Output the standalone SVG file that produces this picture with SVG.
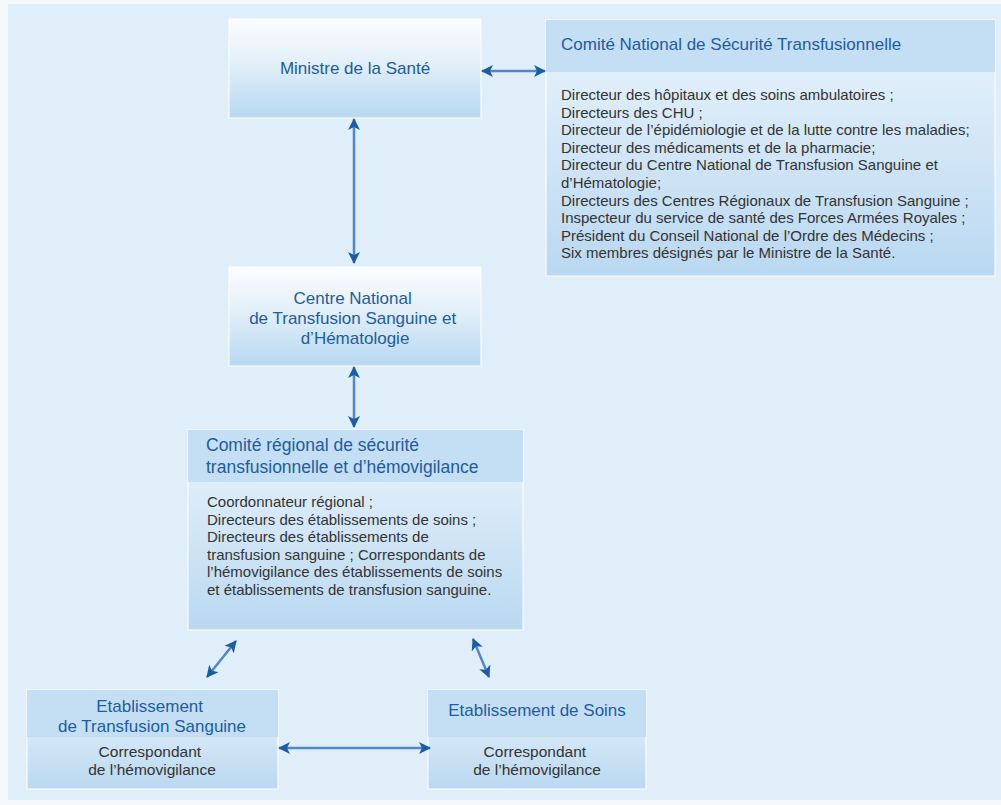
<svg xmlns="http://www.w3.org/2000/svg" width="1001" height="805" viewBox="0 0 1001 805">
<defs>
<linearGradient id="gTop" x1="0" y1="0" x2="0" y2="1">
<stop offset="0" stop-color="#fbfdff"/>
<stop offset="0.45" stop-color="#e2eff9"/>
<stop offset="1" stop-color="#b7d8f1"/>
</linearGradient>
<linearGradient id="gBody" x1="0" y1="0" x2="0" y2="1">
<stop offset="0" stop-color="#eaf4fc"/>
<stop offset="1" stop-color="#bad8f0"/>
</linearGradient>
<marker id="ah" viewBox="0 0 12 12" refX="11" refY="6" markerWidth="12" markerHeight="12" markerUnits="userSpaceOnUse" orient="auto-start-reverse">
<path d="M0,0 L12,6 L0,12 L3,6 Z" fill="#1a5da6"/>
</marker>
</defs>
<style>
.box{stroke:#ffffff;stroke-opacity:0.7;stroke-width:1.5}
.hdr{fill:#c4dff4}
.title{font-family:"Liberation Sans",Arial,sans-serif;font-size:17px;fill:#1f5c9e}
.body{font-family:"Liberation Sans",Arial,sans-serif;font-size:15px;fill:#333333}
.c{text-anchor:middle}
.conn{stroke:#4f88c6;stroke-width:2.5;fill:none;marker-start:url(#ah);marker-end:url(#ah)}
</style>
<rect x="0" y="0" width="1001" height="805" fill="#f4f9fd"/>
<rect x="8" y="4" width="993" height="796" fill="#e0eef9"/>

<g id="ministre">
<rect class="box" x="229" y="19" width="252" height="99" fill="url(#gTop)"/>
<text class="title c" x="355" y="74">Ministre de la Santé</text>
</g>

<g id="comite-national">
<rect class="box" x="546" y="20" width="449" height="256" fill="url(#gBody)"/>
<rect class="hdr" x="546" y="20" width="449" height="52"/>
<text class="title" x="561" y="50">Comité National de Sécurité Transfusionnelle</text>
<text class="body">
<tspan x="561" y="100">Directeur des hôpitaux et des soins ambulatoires ;</tspan>
<tspan x="561" y="117.6">Directeurs des CHU ;</tspan>
<tspan x="561" y="135.2">Directeur de l’épidémiologie et de la lutte contre les maladies;</tspan>
<tspan x="561" y="152.8">Directeur des médicaments et de la pharmacie;</tspan>
<tspan x="561" y="170.4">Directeur du Centre National de Transfusion Sanguine et</tspan>
<tspan x="561" y="188">d’Hématologie;</tspan>
<tspan x="561" y="205.6">Directeurs des Centres Régionaux de Transfusion Sanguine ;</tspan>
<tspan x="561" y="223.2">Inspecteur du service de santé des Forces Armées Royales ;</tspan>
<tspan x="561" y="240.8">Président du Conseil National de l’Ordre des  Médecins ;</tspan>
<tspan x="561" y="258.4">Six membres désignés par le Ministre de la Santé.</tspan>
</text>
</g>

<g id="cnts">
<rect class="box" x="229" y="267" width="252" height="99" fill="url(#gTop)"/>
<text class="title c">
<tspan x="355" y="304">Centre National</tspan>
<tspan x="355" y="324">de Transfusion Sanguine et</tspan>
<tspan x="355" y="344">d’Hématologie</tspan>
</text>
</g>

<g id="comite-regional">
<rect class="box" x="188" y="430" width="335" height="200" fill="url(#gBody)"/>
<rect class="hdr" x="188" y="430" width="335" height="52"/>
<text class="title" style="font-size:17.5px">
<tspan x="206" y="451">Comité régional de sécurité</tspan>
<tspan x="206" y="473">transfusionnelle et d’hémovigilance</tspan>
</text>
<text class="body">
<tspan x="207" y="507">Coordonnateur régional ;</tspan>
<tspan x="207" y="524.6">Directeurs des établissements de soins ;</tspan>
<tspan x="207" y="542.2">Directeurs des établissements de</tspan>
<tspan x="207" y="559.8">transfusion sanguine ; Correspondants de</tspan>
<tspan x="207" y="577.4">l’hémovigilance  des établissements de soins</tspan>
<tspan x="207" y="595">et établissements de transfusion sanguine.</tspan>
</text>
</g>

<g id="ets">
<rect class="box" x="27" y="690" width="251" height="99" fill="url(#gBody)"/>
<rect class="hdr" x="27" y="690" width="251" height="47"/>
<text class="title c">
<tspan x="152" y="712">Etablissement</tspan>
<tspan x="152" y="732">de Transfusion Sanguine</tspan>
</text>
<text class="body c" style="font-size:15.5px">
<tspan x="152" y="757">Correspondant</tspan>
<tspan x="152" y="775">de l’hémovigilance</tspan>
</text>
</g>

<g id="es">
<rect class="box" x="428" y="690" width="218" height="99" fill="url(#gBody)"/>
<rect class="hdr" x="428" y="690" width="218" height="47"/>
<text class="title c" x="537" y="716">Etablissement de Soins</text>
<text class="body c" style="font-size:15.5px">
<tspan x="537" y="757">Correspondant</tspan>
<tspan x="537" y="775">de l’hémovigilance</tspan>
</text>
</g>

<g id="connectors">
<line class="conn" x1="482" y1="71" x2="545" y2="71"/>
<line class="conn" x1="354" y1="119" x2="354" y2="263"/>
<line class="conn" x1="354" y1="367" x2="354" y2="427"/>
<line class="conn" x1="236" y1="641" x2="207" y2="677"/>
<line class="conn" x1="473" y1="639" x2="489" y2="677"/>
<line class="conn" x1="279" y1="748" x2="430" y2="748"/>
</g>
</svg>
